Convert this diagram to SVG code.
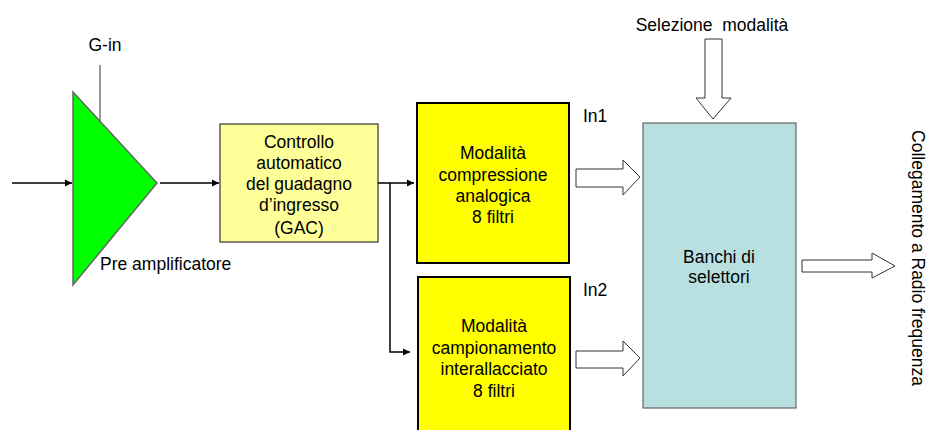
<svg xmlns="http://www.w3.org/2000/svg" width="931" height="430" viewBox="0 0 931 430">
<defs>
<style>
text{font-family:"Liberation Sans",Arial,sans-serif;font-size:17.5px;fill:#000}
.c{text-anchor:middle}
.ln{stroke:#000;stroke-width:1.5;fill:none}
.blk{fill:#fff;stroke:#333;stroke-width:1}
</style>
<marker id="ah" markerWidth="8" markerHeight="8" refX="7" refY="4" orient="auto" markerUnits="userSpaceOnUse">
<path d="M0,0.5 L7,4 L0,7.5 Z" fill="#000"/>
</marker>
</defs>
<rect width="931" height="430" fill="#fff"/>

<g id="preamp">
<line x1="100" y1="65" x2="100" y2="121" stroke="#333" stroke-width="1"/>
<polygon points="73,92 157,183 73,285" fill="#00FF00" stroke="#666" stroke-width="1.5"/>
<text x="105" y="51" class="c">G-in</text>
<text x="100" y="270">Pre amplificatore</text>
</g>

<g id="gac">
<rect x="220" y="124" width="158" height="118" fill="#FFFF99" stroke="#333" stroke-width="1.2"/>
<text x="299" y="148" class="c">Controllo</text>
<text x="299" y="169" class="c">automatico</text>
<text x="299" y="190" class="c">del guadagno</text>
<text x="299" y="211" class="c">d’ingresso</text>
<text x="299" y="234" class="c">(GAC)</text>
</g>

<g id="compressione">
<rect x="417" y="103" width="152" height="160" fill="#FFFF00" stroke="#000" stroke-width="2"/>
<text x="493" y="159" class="c">Modalità</text>
<text x="493" y="181" class="c">compressione</text>
<text x="493" y="202" class="c">analogica</text>
<text x="493" y="223" class="c">8 filtri</text>
<text x="583" y="122">In1</text>
</g>

<g id="campionamento">
<rect x="418" y="277" width="152" height="160" fill="#FFFF00" stroke="#000" stroke-width="2"/>
<text x="494" y="332" class="c">Modalità</text>
<text x="494" y="354" class="c">campionamento</text>
<text x="494" y="375" class="c">interallacciato</text>
<text x="494" y="397" class="c">8 filtri</text>
<text x="583" y="296">In2</text>
</g>

<g id="selettori">
<rect x="643" y="123" width="153" height="285" fill="#B9E0E0" stroke="#666" stroke-width="1.2"/>
<text x="719" y="263" class="c">Banchi di</text>
<text x="719" y="283" class="c">selettori</text>
<text x="712" y="31" class="c" xml:space="preserve">Selezione  modalità</text>
</g>

<g id="uscita">
<text transform="translate(912,258) rotate(90)" class="c">Collegamento a Radio frequenza</text>
</g>

<g id="connectors">
<line class="ln" x1="12" y1="183" x2="72" y2="183" marker-end="url(#ah)"/>
<line class="ln" x1="160" y1="183" x2="219" y2="183" marker-end="url(#ah)"/>
<line class="ln" x1="378" y1="183" x2="414" y2="183" marker-end="url(#ah)"/>
<polyline class="ln" points="390,183 390,352 410,352" marker-end="url(#ah)"/>
<polygon class="blk" points="576,169 623,169 623,160 640,177 623,195 623,187 576,187"/>
<polygon class="blk" points="576,351 623,351 623,341 640,358 623,376 623,368 576,368"/>
<polygon class="blk" points="705,39 722,39 722,98 731,98 713,119 696,98 705,98"/>
<polygon class="blk" points="802,260 872,260 872,253 895,266 872,278 872,272 802,272"/>
</g>
</svg>
